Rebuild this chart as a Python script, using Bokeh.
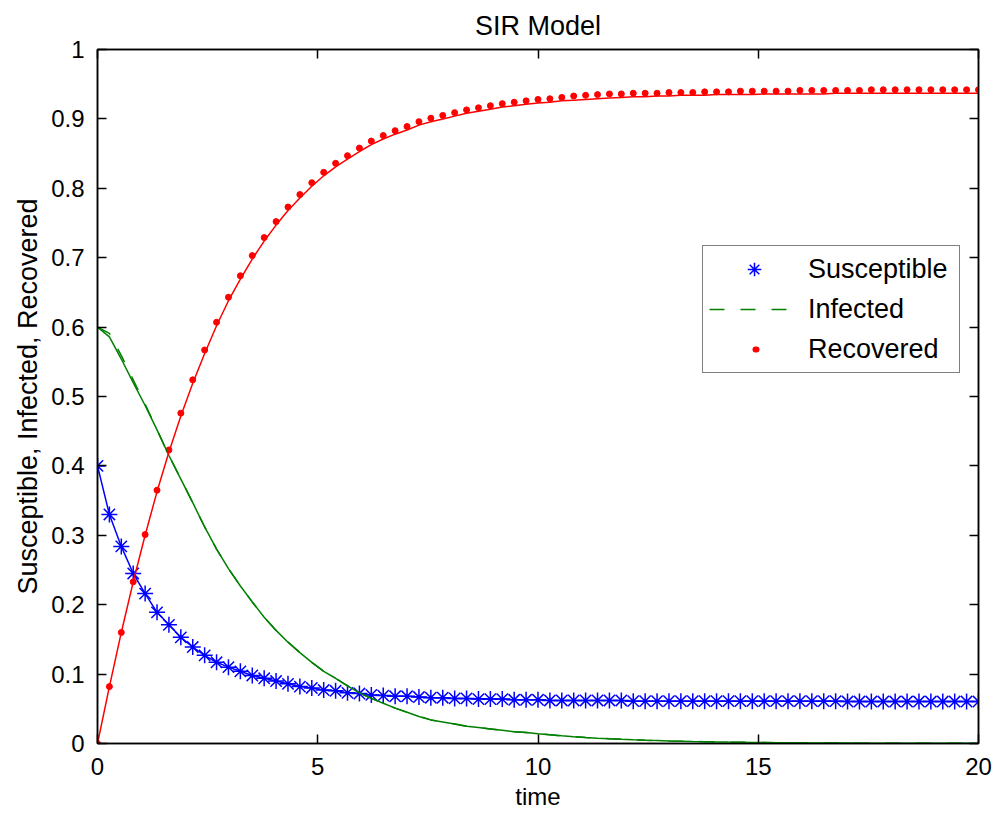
import numpy as np
from bokeh.plotting import figure
from bokeh.models import (Range1d, LinearAxis, FixedTicker, CustomJSTickFormatter,
                          Legend, LegendItem, ColumnDataSource)
from bokeh.embed import file_html
from bokeh.resources import INLINE

# ---------------- data ----------------
t = np.linspace(0, 20, 75)

susceptible = [
    0.400, 0.330, 0.284, 0.245, 0.216, 0.189, 0.171, 0.153, 0.139, 0.127, 0.117,
    0.110, 0.104, 0.098, 0.094, 0.090, 0.086, 0.082, 0.080, 0.077, 0.076,
    0.073, 0.072, 0.070, 0.069, 0.068, 0.068, 0.067, 0.066, 0.066, 0.065,
    0.065, 0.064, 0.064, 0.064, 0.063, 0.063, 0.063, 0.062, 0.062, 0.062, 0.062,
    0.062, 0.062, 0.062,
    0.061, 0.061, 0.061, 0.061, 0.061, 0.061, 0.061, 0.061, 0.061, 0.061,
    0.061, 0.061, 0.061, 0.061, 0.061, 0.061, 0.061, 0.061,
    0.0605, 0.0605, 0.0605, 0.0605, 0.0605, 0.0605, 0.0605, 0.0605, 0.0605,
    0.0605, 0.0605, 0.0605,
]

infected_data = [
    0.600, 0.591, 0.559, 0.524, 0.489, 0.452, 0.415, 0.381, 0.347, 0.312, 0.280,
    0.252, 0.227, 0.204, 0.182, 0.163, 0.146, 0.131, 0.117, 0.104, 0.094,
    0.083, 0.073, 0.065, 0.058, 0.051, 0.045, 0.039, 0.034, 0.031, 0.028,
    0.025, 0.023, 0.021, 0.019, 0.017, 0.016, 0.014,
    0.0125, 0.011, 0.0098, 0.0087, 0.0077, 0.0068, 0.006, 0.0053, 0.0047, 0.0042,
    0.0037, 0.0033, 0.0029, 0.0026, 0.0023, 0.002, 0.0018, 0.0016, 0.0014, 0.0012,
    0.0011, 0.001, 0.0009, 0.0008, 0.0007, 0.0006, 0.0005, 0.0005, 0.0004, 0.0004,
    0.0003, 0.0003, 0.0003, 0.0002, 0.0002, 0.0002, 0.0002,
]

infected_model = [
    0.600, 0.586, 0.554, 0.520, 0.487, 0.452, 0.415, 0.381, 0.347, 0.312, 0.280,
    0.252, 0.227, 0.204, 0.182, 0.163, 0.146, 0.131, 0.117, 0.104, 0.094,
    0.083, 0.073, 0.065, 0.058, 0.051, 0.045, 0.039, 0.034, 0.031, 0.028,
    0.025, 0.023, 0.021, 0.019, 0.017, 0.016, 0.014,
    0.0125, 0.011, 0.0098, 0.0087, 0.0077, 0.0068, 0.006, 0.0053, 0.0047, 0.0042,
    0.0037, 0.0033, 0.0029, 0.0026, 0.0023, 0.002, 0.0018, 0.0016, 0.0014, 0.0012,
    0.0011, 0.001, 0.0009, 0.0008, 0.0007, 0.0006, 0.0005, 0.0005, 0.0004, 0.0004,
    0.0003, 0.0003, 0.0003, 0.0002, 0.0002, 0.0002, 0.0002,
]

recovered_data = [
    0.000, 0.082, 0.160, 0.233, 0.301, 0.365, 0.423, 0.476, 0.524, 0.567, 0.607,
    0.643, 0.674, 0.703, 0.729, 0.752, 0.773, 0.791, 0.808, 0.823, 0.836,
    0.847, 0.858, 0.868, 0.876, 0.883, 0.889, 0.896, 0.901, 0.905, 0.909,
    0.913, 0.916, 0.919, 0.922, 0.924, 0.926, 0.928, 0.929, 0.931, 0.933,
    0.934, 0.935, 0.936, 0.936, 0.937, 0.937, 0.937,
    0.938, 0.938, 0.938, 0.939, 0.939, 0.939, 0.940, 0.940, 0.940, 0.940, 0.940,
    0.941, 0.941, 0.941, 0.941, 0.941, 0.941,
    0.942, 0.942, 0.942, 0.942, 0.942, 0.942, 0.942, 0.942, 0.942, 0.942,
]

recovered_model = [
    0.000, 0.082, 0.160, 0.233, 0.300, 0.363, 0.420, 0.472, 0.519, 0.562, 0.602,
    0.638, 0.669, 0.698, 0.724, 0.747, 0.768, 0.786, 0.803, 0.818, 0.831,
    0.842, 0.853, 0.863, 0.871, 0.878, 0.884, 0.891, 0.896, 0.900, 0.904,
    0.908, 0.911, 0.914, 0.917, 0.919, 0.921, 0.923, 0.924, 0.926, 0.927,
    0.928, 0.929, 0.930, 0.931, 0.932, 0.932, 0.933,
    0.933, 0.934, 0.934, 0.934, 0.935, 0.935, 0.935, 0.935, 0.936, 0.936,
    0.936, 0.936, 0.936, 0.936,
    0.937, 0.937, 0.937, 0.937, 0.937, 0.937, 0.937, 0.937, 0.937, 0.937,
    0.937, 0.937, 0.937,
]

x_ticks = [0, 5, 10, 15, 20]
y_ticks = [0, 0.1, 0.2, 0.3, 0.4, 0.5, 0.6, 0.7, 0.8, 0.9, 1]

series_labels = ["Susceptible", "Infected", "Recovered"]

# ---------------- styling ----------------
FONT = "Liberation Sans"
BLUE, GREEN, RED = "#0000FF", "#008000", "#FF0000"

src = ColumnDataSource(dict(t=t, S=susceptible, Id=infected_data, Im=infected_model,
                            Rd=recovered_data, Rm=recovered_model))

p = figure(width=995, height=814, output_backend="svg", toolbar_location=None,
           x_range=Range1d(0, 20), y_range=Range1d(0, 1),
           min_border_left=97, min_border_right=17, min_border_top=49,
           min_border_bottom=71)

p.title.text = "SIR Model"
p.title.align = "center"
p.title.vertical_align = "top"
p.title.text_font = FONT
p.title.text_font_size = "27px"
p.title.text_font_style = "normal"
p.title.text_color = "black"
p.title.standoff = 14

p.xgrid.visible = False
p.ygrid.visible = False
p.background_fill_color = "white"
p.border_fill_color = "white"
p.outline_line_color = "black"
p.outline_line_width = 1.5


def style_axis(ax, ticks, show_labels):
    ax.ticker = FixedTicker(ticks=ticks)
    ax.major_tick_in = 9
    ax.major_tick_out = 0
    ax.minor_tick_line_color = None
    ax.axis_line_color = "black"
    ax.axis_line_width = 1.5
    ax.major_tick_line_color = "black"
    ax.major_tick_line_width = 1.5
    ax.major_label_text_font = FONT
    ax.major_label_text_color = "black"
    if show_labels:
        ax.major_label_text_font_size = "24px"
    else:
        ax.major_label_text_font_size = "0px"
        ax.major_label_standoff = 0
        ax.formatter = CustomJSTickFormatter(code="return '';")


xa = p.xaxis[0]
ya = p.yaxis[0]
style_axis(xa, x_ticks, True)
style_axis(ya, y_ticks, True)
ya.formatter = CustomJSTickFormatter(code="return (Math.round(tick*10)/10).toString();")
xa.major_label_standoff = 14
ya.major_label_standoff = 13
xa.axis_label = "time"
ya.axis_label = "Susceptible, Infected, Recovered"
for ax in (xa, ya):
    ax.axis_label_text_font = FONT
    ax.axis_label_text_font_style = "normal"
    ax.axis_label_text_color = "black"
xa.axis_label_text_font_size = "24px"
ya.axis_label_text_font_size = "27px"
xa.axis_label_standoff = 5
ya.axis_label_standoff = 5

top = LinearAxis()
style_axis(top, x_ticks, False)
p.add_layout(top, "above")
right = LinearAxis()
style_axis(right, y_ticks, False)
p.add_layout(right, "right")

# ---------------- glyphs ----------------
r_s = p.scatter("t", "S", source=src, marker="asterisk", size=16, line_color=BLUE,
                line_width=1.5)
r_i = p.line("t", "Id", source=src, line_color=GREEN, line_width=1.5, line_dash="15 16")
r_r = p.scatter("t", "Rd", source=src, marker="circle", size=6, fill_color=RED,
                line_color=RED)
p.line("t", "S", source=src, line_color=BLUE, line_width=1.5)
p.line("t", "Im", source=src, line_color=GREEN, line_width=1.5)
p.line("t", "Rm", source=src, line_color=RED, line_width=1.5)

# legend key for the small red dot: a round-capped short dash, placed off the
# visible x range so it draws nothing on the axes themselves
r_r_key = p.line(x=[-10, -9], y=[0.5, 0.5], line_color=RED, line_width=6,
                 line_cap="round", line_dash="1 1000", line_dash_offset=955)

legend = Legend(items=[LegendItem(label=series_labels[0], renderers=[r_s]),
                       LegendItem(label=series_labels[1], renderers=[r_i]),
                       LegendItem(label=series_labels[2], renderers=[r_r_key])],
                location=(605, 370))
legend.label_text_font = FONT
legend.label_text_font_size = "27px"
legend.label_text_color = "black"
legend.border_line_color = "black"
legend.border_line_width = 1.5
legend.background_fill_color = "white"
legend.background_fill_alpha = 1
legend.glyph_width = 90
legend.glyph_height = 34
legend.label_height = 34
legend.label_width = 145
legend.label_standoff = 9
legend.spacing = 6
legend.padding = 6
legend.margin = 0
p.add_layout(legend)

open("out.html", "w").write(file_html(p, INLINE))
